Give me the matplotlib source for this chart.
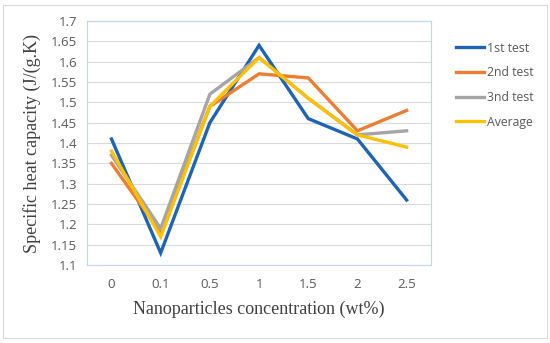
import matplotlib.pyplot as plt
import numpy as np

# data
concentrations = ["0", "0.1", "0.5", "1", "1.5", "2", "2.5"]
test_1 = [1.41, 1.13, 1.45, 1.64, 1.46, 1.41, 1.26]
test_2 = [1.35, 1.18, 1.49, 1.57, 1.56, 1.43, 1.48]
test_3 = [1.37, 1.19, 1.52, 1.61, 1.51, 1.42, 1.43]
average = [1.38, 1.17, 1.49, 1.61, 1.51, 1.42, 1.39]

series_names = ["1st test", "2nd test", "3nd test", "Average"]
series_colors = ["#1f64b4", "#ed7d31", "#a5a5a5", "#ffc000"]
yticks = np.round(np.arange(1.1, 1.7001, 0.05), 2)

fig = plt.figure(figsize=(5.5, 3.43), dpi=100)
fig.patch.set_facecolor("white")

# light outer frame like the exported chart area
frame = plt.Rectangle((0.006, 0.015), 0.988, 0.97, transform=fig.transFigure,
                      fill=False, edgecolor="#d9d9d9", linewidth=0.8)
fig.add_artist(frame)

ax = fig.add_axes([0.158, 0.227, 0.626, 0.712])
x = np.arange(len(concentrations))
for vals, name, col in zip([test_1, test_2, test_3, average], series_names, series_colors):
    ax.plot(x, vals, color=col, linewidth=2.4, label=name, solid_joinstyle="miter")

ax.set_xlim(-0.5, len(concentrations) - 0.5)
ax.set_ylim(1.1, 1.7)
ax.set_xticks(x)
ax.set_xticklabels(concentrations)
ax.set_yticks(yticks)
ax.set_yticklabels([f"{v:g}" for v in yticks])
ax.grid(axis="y", color="#d9d9d9", linewidth=0.8)
ax.set_axisbelow(True)
for sp in ax.spines.values():
    sp.set_color("#bdd7ee")
    sp.set_linewidth(0.8)
ax.tick_params(length=0, labelsize=9.5, labelcolor="#595959", pad=7, labelfontfamily="Open Sans")
ax.tick_params(axis="x", pad=9)

ax.set_xlabel("Nanoparticles concentration (wt%)", family="Liberation Serif",
              fontsize=13, color="#404040", labelpad=7)
ax.set_ylabel("Specific heat capacity (J/(g.K)", family="Liberation Serif",
              fontsize=13, color="#404040", labelpad=7)

leg = ax.legend(loc="upper left", bbox_to_anchor=(1.04, 0.96), frameon=False,
                handlelength=2.3, handletextpad=0.25, labelspacing=0.95,
                prop={"family": "Open Sans", "size": 8.8})
for t in leg.get_texts():
    t.set_color("#595959")

fig.savefig("out.png", dpi=100)
